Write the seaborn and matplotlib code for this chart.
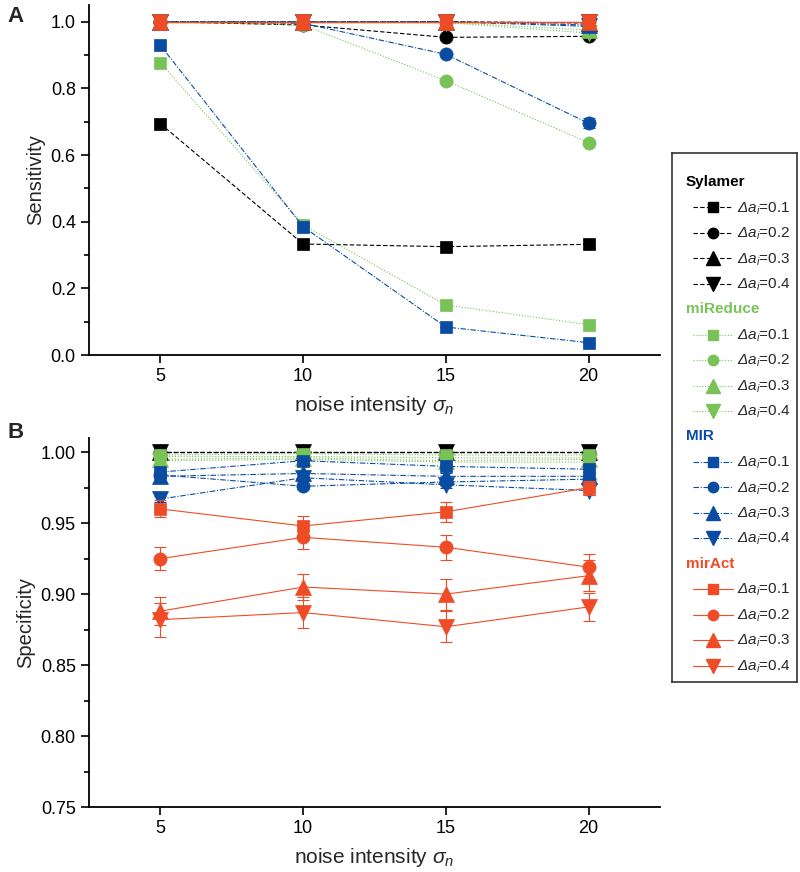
import numpy as np
import pandas as pd
import matplotlib
matplotlib.use('Agg')
import matplotlib.pyplot as plt
import seaborn as sns

# x values and legend categories
noise = [5, 10, 15, 20]
deltas = ['0.1', '0.2', '0.3', '0.4']
methods = ['Sylamer', 'miReduce', 'MIR', 'mirAct']

# Panel A: sensitivity (rows = delta a_i 0.1 .. 0.4)
sens_sylamer = [[0.694, 0.333, 0.325, 0.332],
                [1.000, 0.990, 0.953, 0.956],
                [1.000, 1.000, 1.000, 0.996],
                [1.000, 1.000, 1.000, 1.000]]
sens_mireduce = [[0.877, 0.390, 0.150, 0.091],
                 [1.000, 0.990, 0.823, 0.637],
                 [1.000, 1.000, 0.998, 0.975],
                 [1.000, 1.000, 0.997, 0.966]]
sens_mir = [[0.929, 0.385, 0.084, 0.037],
            [1.000, 0.995, 0.902, 0.695],
            [1.000, 1.000, 1.000, 0.990],
            [1.000, 1.000, 1.000, 0.986]]
sens_miract = [[1.000, 1.000, 1.000, 1.000],
               [1.000, 1.000, 1.000, 1.000],
               [1.000, 1.000, 1.000, 1.000],
               [1.000, 1.000, 1.000, 1.000]]
sens_err_mir = [[0.0, 0.015, 0.0, 0.0],
                [0.0, 0.0, 0.0, 0.015],
                [0.0, 0.0, 0.0, 0.0],
                [0.0, 0.0, 0.0, 0.0]]

# Panel B: specificity
spec_sylamer = [[1.000, 1.000, 1.000, 1.000],
                [1.000, 1.000, 1.000, 1.000],
                [1.000, 1.000, 1.000, 1.000],
                [1.000, 1.000, 1.000, 1.000]]
spec_mireduce = [[0.998, 0.999, 0.998, 0.998],
                 [0.997, 0.997, 0.996, 0.996],
                 [0.995, 0.996, 0.994, 0.995],
                 [0.994, 0.995, 0.993, 0.993]]
spec_mir = [[0.986, 0.994, 0.990, 0.988],
            [0.984, 0.976, 0.979, 0.981],
            [0.983, 0.985, 0.983, 0.983],
            [0.967, 0.982, 0.977, 0.973]]
spec_miract = [[0.960, 0.948, 0.958, 0.975],
               [0.925, 0.940, 0.933, 0.919],
               [0.888, 0.905, 0.900, 0.913],
               [0.882, 0.887, 0.877, 0.891]]
spec_err_mir = [[0.002, 0.002, 0.002, 0.002],
                [0.002, 0.002, 0.002, 0.003],
                [0.002, 0.002, 0.002, 0.003],
                [0.002, 0.002, 0.002, 0.003]]
spec_err_miract = [[0.006, 0.007, 0.007, 0.005],
                   [0.008, 0.008, 0.009, 0.009],
                   [0.010, 0.009, 0.011, 0.011],
                   [0.012, 0.011, 0.011, 0.010]]

colors = {'Sylamer': '#000000', 'miReduce': '#78C257', 'MIR': '#0A4CA2', 'mirAct': '#EE4C27'}
dash_styles = {'Sylamer': (0, (4, 2)), 'miReduce': (0, (1, 1.6)),
               'MIR': (0, (5, 1.5, 1, 1.5)), 'mirAct': '-'}
markers = ['s', 'o', '^', 'v']
msizes = [8.5, 9.5, 12, 12]

sns.set_theme(style='ticks')
plt.rcParams['font.family'] = ['Liberation Sans', 'DejaVu Sans']
plt.rcParams['mathtext.fontset'] = 'custom'
# the only math in the figure is italic (sigma_n, Delta a_i)
plt.rcParams['mathtext.rm'] = 'Liberation Sans:italic'
plt.rcParams['mathtext.it'] = 'Liberation Sans:italic'


def long_frame(tables):
    rows = []
    for m, tab in zip(methods, tables):
        for d, vals in zip(deltas, tab):
            for x, v in zip(noise, vals):
                rows.append({'method': m, 'delta': d, 'noise': x, 'value': v})
    return pd.DataFrame(rows)


dfA = long_frame([sens_sylamer, sens_mireduce, sens_mir, sens_miract])
dfB = long_frame([spec_sylamer, spec_mireduce, spec_mir, spec_miract])
zero = [[0.0] * 4] * 4
errA = {'Sylamer': zero, 'miReduce': zero, 'MIR': sens_err_mir, 'mirAct': zero}
errB = {'Sylamer': zero, 'miReduce': zero, 'MIR': spec_err_mir, 'mirAct': spec_err_miract}

fig = plt.figure(figsize=(8, 8.72), dpi=100)
W, H = 800, 872
axA = fig.add_axes([89 / W, 1 - 355 / H, 571 / W, 350 / H])
axB = fig.add_axes([89 / W, 1 - 807 / H, 571 / W, 369 / H])


def draw(ax, df, errs):
    z = 2
    for m in methods:
        for k, d in enumerate(deltas):
            sub = df[(df['method'] == m) & (df['delta'] == d)]
            e = np.array(errs[m][k])
            if e.any():
                ax.errorbar(sub['noise'], sub['value'], yerr=e, fmt='none',
                            ecolor=colors[m], elinewidth=0.8, capsize=4,
                            capthick=0.8, zorder=z)
            sns.lineplot(data=sub, x='noise', y='value', ax=ax, color=colors[m],
                         marker=markers[k], markersize=msizes[k],
                         markeredgecolor=colors[m], markeredgewidth=0.5,
                         linestyle=dash_styles[m], linewidth=0.8, zorder=z + 0.5,
                         legend=False, errorbar=None)
            z += 1


draw(axA, dfA, errA)
draw(axB, dfB, errB)

for ax in (axA, axB):
    sns.despine(ax=ax)
    ax.set_xlim(2.5, 22.5)
    ax.set_xticks(noise)
    ax.set_xlabel(r'noise intensity $\sigma_n$', fontsize=15, labelpad=6)
    ax.tick_params(axis='both', which='major', direction='out', length=6,
                   width=1.2, labelsize=13, color='black', labelcolor='black')
    ax.tick_params(axis='y', which='minor', direction='out', length=3.5,
                   width=1.2, color='black')
    for s in ('left', 'bottom'):
        ax.spines[s].set_linewidth(1.3)
        ax.spines[s].set_color('black')

axA.set_ylim(0, 1.05)
axA.set_yticks([0.0, 0.2, 0.4, 0.6, 0.8, 1.0])
axA.set_yticks([0.1, 0.3, 0.5, 0.7, 0.9], minor=True)
axA.set_yticklabels(['0.0', '0.2', '0.4', '0.6', '0.8', '1.0'])
axA.set_ylabel('Sensitivity', fontsize=14.5)

axB.set_ylim(0.75, 1.01)
axB.set_yticks([0.75, 0.80, 0.85, 0.90, 0.95, 1.00])
axB.set_yticks([0.775, 0.825, 0.875, 0.925, 0.975], minor=True)
axB.set_yticklabels(['0.75', '0.80', '0.85', '0.90', '0.95', '1.00'])
axB.set_ylabel('Specificity', fontsize=14.5)

fig.text(16 / W, 1 - 17 / H, 'A', fontsize=16, fontweight='bold', ha='center', va='center')
fig.text(16 / W, 1 - 432 / H, 'B', fontsize=16, fontweight='bold', ha='center', va='center')

# legend box drawn as its own small axes (pixel coordinates)
lg = fig.add_axes([672 / W, 1 - 682 / H, 125 / W, 529 / H])
lg.set_xlim(672, 797)
lg.set_ylim(682, 153)
lg.set_xticks([])
lg.set_yticks([])
lg.set_facecolor('white')
for s in lg.spines.values():
    s.set_visible(True)
    s.set_linewidth(1.2)
    s.set_color('#333333')

row = 0
for m in methods:
    y = 182 + 25.45 * row
    lg.text(686, y, m, color=colors[m], fontsize=11, fontweight='bold', va='center', ha='left')
    row += 1
    for k, d in enumerate(deltas):
        y = 182 + 25.45 * row
        lg.plot([693, 733], [y, y], color=colors[m], linestyle=dash_styles[m], linewidth=0.8)
        lg.plot([713], [y], color=colors[m], marker=markers[k], markersize=msizes[k] - 2,
                markeredgecolor=colors[m], linestyle='none')
        lg.text(737, y + 1, r'$\Delta a_i$=' + d, fontsize=11, va='center', ha='left')
        row += 1

fig.savefig('out.png', dpi=100)
